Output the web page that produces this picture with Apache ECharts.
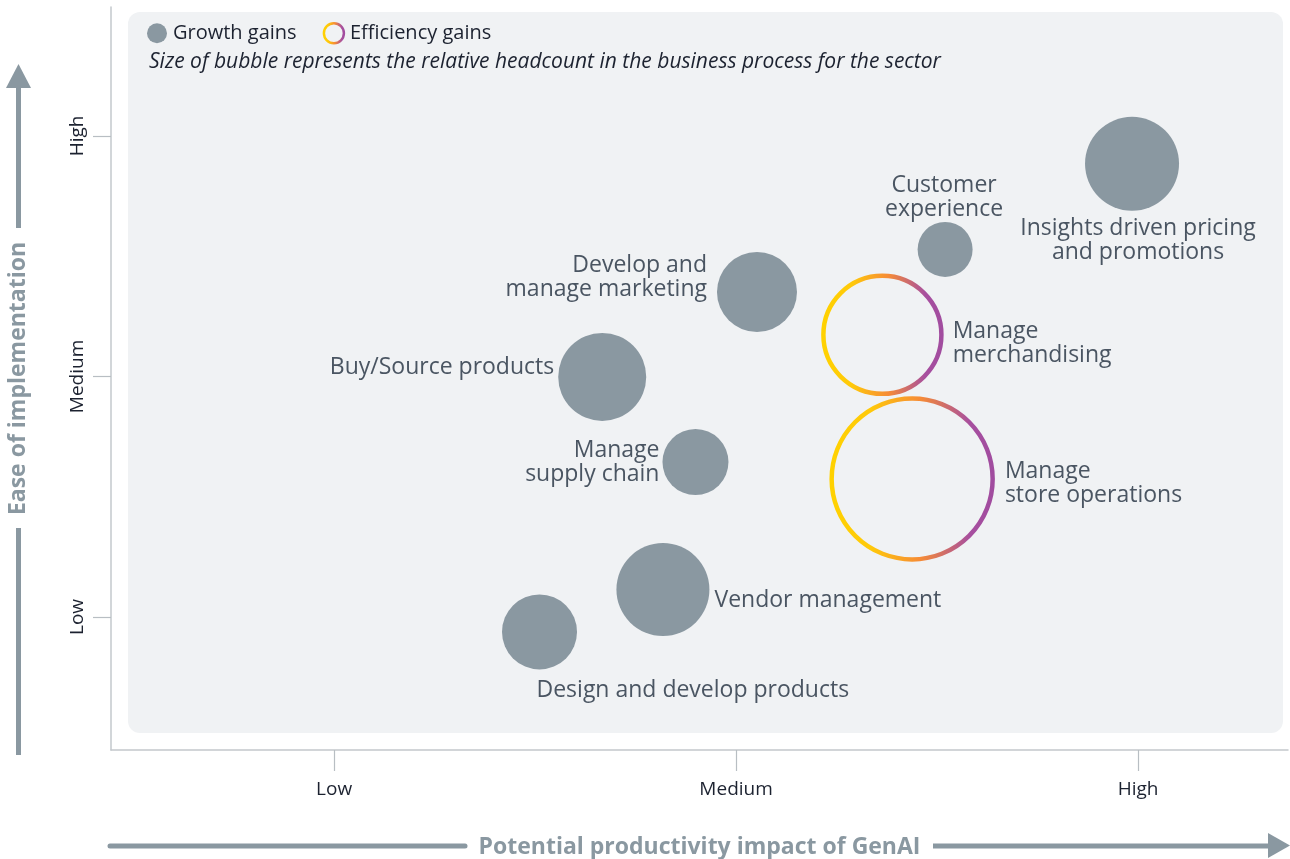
<!DOCTYPE html>
<html>
<head>
<meta charset="utf-8">
<script src="https://cdn.jsdelivr.net/npm/echarts@6/dist/echarts.min.js"></script>
<style>
  html, body { margin: 0; padding: 0; background: #fff; }
  #chart { width: 1290px; height: 859px; }
</style>
</head>
<body>
<div id="chart"></div>
<script>
// tick labels for both axes (value 1, 2, 3)
const tickLabels = ["Low", "Medium", "High"];
const tickValues = [1, 2, 3];

// growth gains: [impact, ease, bubble size]
const growthNames = [
  "Insights driven pricing\nand promotions",
  "Customer\nexperience",
  "Develop and\nmanage marketing",
  "Buy/Source products",
  "Manage\nsupply chain",
  "Vendor management",
  "Design and develop products"
];
const growthX = [2.985, 2.520, 2.052, 1.667, 1.899, 1.818, 1.511];
const growthY = [2.884, 2.528, 2.351, 1.998, 1.644, 1.114, 0.938];
const growthSize = [94, 55, 80, 88, 66, 93, 75];

// efficiency gains
const effNames = ["Manage\nmerchandising", "Manage\nstore operations"];
const effX = [2.364, 2.438];
const effY = [2.173, 1.574];
const effSize = [118, 161];

const FONT = "'Open Sans', 'Noto Sans', sans-serif";
const GREY = "#8a98a1";
const LABEL = "#4a5562";

// label placement for each growth bubble
const growthLabels = [
  { position: "bottom", distance: 6, offset: [6, 0] },
  { position: "top", distance: 1, offset: [-1, 0] },
  { position: "left", distance: 10, offset: [0, -15] },
  { position: "left", distance: 4, offset: [0, -9] },
  { position: "left", distance: 3, offset: [0, 0] },
  { position: "right", distance: 5, offset: [0, 11] },
  { position: "bottom", distance: 9, offset: [-3, 0], align: "left" }
];
const effLabels = [
  { position: "right", distance: 9, offset: [0, 9] },
  { position: "right", distance: 10, offset: [0, 5] }
];

const ringGradient = {
  type: "linear", x: 0, y: 0, x2: 1, y2: 0,
  colorStops: [
    { offset: 0, color: "#ffd200" },
    { offset: 0.25, color: "#ffc90a" },
    { offset: 0.55, color: "#f68b36" },
    { offset: 0.85, color: "#a74f9f" },
    { offset: 1, color: "#a04c9f" }
  ]
};

const labelBase = {
  show: true,
  formatter: "{b}",
  color: LABEL,
  fontFamily: FONT,
  fontSize: 23,
  lineHeight: 24
};

const growthData = growthX.map((x, i) => ({
  name: growthNames[i],
  value: [x, growthY[i], growthSize[i]],
  label: Object.assign({}, labelBase, growthLabels[i], {
    align: growthLabels[i].align || (growthLabels[i].position === "left" ? "right" :
      growthLabels[i].position === "right" ? "left" : "center")
  })
}));

const effData = effX.map((x, i) => ({
  name: effNames[i],
  value: [x, effY[i], effSize[i]],
  label: Object.assign({}, labelBase, effLabels[i], { align: "left" })
}));

const chart = echarts.init(document.getElementById("chart"), null, { renderer: "canvas" });

const option = {
  backgroundColor: "#ffffff",
  animation: false,
  textStyle: { fontFamily: FONT },
  title: {
    text: "Size of bubble represents the relative headcount in the business process for the sector",
    left: 144,
    top: 46,
    textStyle: {
      fontFamily: FONT,
      fontSize: 21,
      fontStyle: "italic",
      fontWeight: "normal",
      color: "#1c2230",
      lineHeight: 22
    }
  },
  legend: {
    left: 142,
    top: 17,
    itemWidth: 20,
    itemHeight: 20,
    itemGap: 26,
    textStyle: { fontFamily: FONT, fontSize: 20, color: "#1c2230", padding: [0, 0, 0, 1] },
    data: [
      { name: "Growth gains", icon: "circle", itemStyle: { color: GREY, borderWidth: 0 } },
      { name: "Efficiency gains", icon: "circle",
        itemStyle: { color: "rgba(0,0,0,0)", borderColor: ringGradient, borderWidth: 2.5 } }
    ]
  },
  grid: { left: 111, right: 2, top: 7, bottom: 109, outerBoundsMode: "none" },
  xAxis: {
    type: "value",
    min: 0.445,
    max: 3.373,
    name: "Potential productivity impact of GenAI",
    nameLocation: "middle",
    nameGap: 86,
    nameTextStyle: { fontFamily: FONT, fontSize: 23, fontWeight: "bold", color: GREY },
    splitLine: { show: false },
    axisLine: { show: true, lineStyle: { color: "#c3c8cc", width: 1.5 } },
    axisTick: { show: true, length: 21, customValues: tickValues, lineStyle: { color: "#b8bec3", width: 1.2 } },
    axisLabel: {
      customValues: tickValues,
      formatter: v => tickLabels[Math.round(v) - 1],
      margin: 30,
      fontFamily: FONT,
      fontSize: 19,
      color: "#1c2230"
    }
  },
  yAxis: {
    type: "value",
    min: 0.447,
    max: 3.536,
    name: "Ease of implementation",
    nameLocation: "middle",
    nameGap: 81,
    nameTextStyle: { fontFamily: FONT, fontSize: 23, fontWeight: "bold", color: GREY },
    splitLine: { show: false },
    axisLine: { show: true, lineStyle: { color: "#c3c8cc", width: 1.5 } },
    axisTick: { show: true, length: 18, customValues: tickValues, lineStyle: { color: "#b8bec3", width: 1.2 } },
    axisLabel: {
      customValues: tickValues,
      formatter: v => tickLabels[Math.round(v) - 1],
      rotate: 90,
      margin: 24,
      fontFamily: FONT,
      fontSize: 19,
      color: "#1c2230"
    }
  },
  graphic: {
    elements: [
      // light panel behind the bubbles
      { type: "rect", z: -10, shape: { x: 128, y: 12, width: 1155, height: 721, r: 12 },
        style: { fill: "#f0f2f4" } },
      // horizontal arrow, split around the axis name
      { type: "line", shape: { x1: 110, y1: 846, x2: 465, y2: 846 },
        style: { stroke: GREY, lineWidth: 5, lineCap: "round" } },
      { type: "line", shape: { x1: 933, y1: 846, x2: 1272, y2: 846 },
        style: { stroke: GREY, lineWidth: 5, lineCap: "butt" } },
      { type: "polygon", shape: { points: [[1268, 833], [1290, 845.5], [1268, 858]] },
        style: { fill: GREY } },
      // vertical arrow
      { type: "line", shape: { x1: 18.5, y1: 86, x2: 18.5, y2: 228 },
        style: { stroke: GREY, lineWidth: 5, lineCap: "butt" } },
      { type: "line", shape: { x1: 18.5, y1: 528, x2: 18.5, y2: 755 },
        style: { stroke: GREY, lineWidth: 5, lineCap: "butt" } },
      { type: "polygon", shape: { points: [[6, 88], [18.5, 64], [31, 88]] },
        style: { fill: GREY } }
    ]
  },
  series: [
    {
      name: "Growth gains",
      type: "scatter",
      symbol: "circle",
      symbolSize: v => v[2],
      itemStyle: { color: GREY, opacity: 1 },
      emphasis: { disabled: true },
      data: growthData
    },
    {
      name: "Efficiency gains",
      type: "scatter",
      symbol: "circle",
      symbolSize: v => v[2],
      itemStyle: { color: "rgba(0,0,0,0)", borderColor: ringGradient, borderWidth: 4.5, opacity: 1 },
      emphasis: { disabled: true },
      data: effData
    }
  ]
};

chart.setOption(option);

window.addEventListener("resize", function() {
  if (chart != null) {
    chart.resize();
  }
});
</script>
</body>
</html>
